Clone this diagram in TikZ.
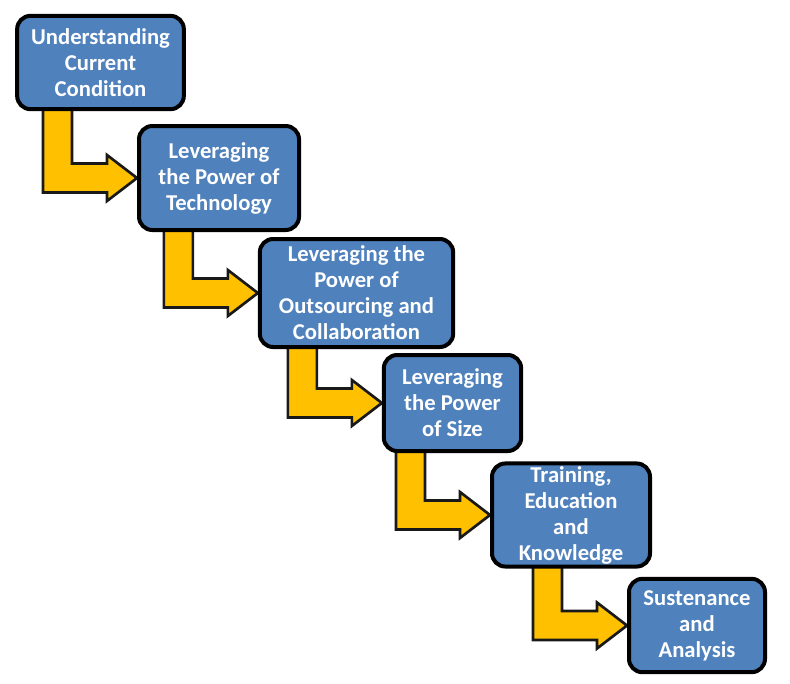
\documentclass[tikz,border=0pt]{standalone}
\usepackage{fontspec}
\setmainfont{Carlito}
\usepackage{xcolor}
\usetikzlibrary{calc,backgrounds}

\definecolor{stageblue}{HTML}{4F81BD}
\definecolor{stairgold}{HTML}{FFC000}

\begin{document}
\begin{tikzpicture}[
	x=0.75pt, y=-0.75pt,
	stage/.style={rounded corners=10pt, draw=black, line width=3pt, fill=stageblue, align=center, text=white, font=\fontsize{17}{19.5}\selectfont\bfseries, inner sep=2pt},
	stair/.style={fill=stairgold, draw=black!90, line width=2pt, line join=miter}
	]
	\useasboundingbox (0,0) rectangle (790,683);
	\node[stage, minimum width=125pt, minimum height=70pt] (cur) at (100.5,62.5) {Understanding\\Current\\Condition};
	\node[stage, minimum width=120pt, minimum height=78pt] (tech) at (219,178) {Leveraging\\the Power of\\Technology};
	\node[stage, minimum width=145pt, minimum height=81pt] (outs) at (356.5,293) {Leveraging the\\Power of\\Outsourcing and\\Collaboration};
	\node[stage, minimum width=103pt, minimum height=72pt] (size) at (452.5,403) {Leveraging\\the Power\\of Size};
	\node[stage, minimum width=118.5pt, minimum height=75pt] (train) at (571,515) {Training,\\Education\\and\\Knowledge};
	\node[stage, minimum width=102pt, minimum height=70pt] (sust) at (697,625.5) {Sustenance\\and\\Analysis};
	% bent arrows behind the boxes
	\begin{scope}[on background layer]
		\foreach \src/\dst in {cur/tech, tech/outs, outs/size, size/train, train/sust}
			\filldraw[stair] let \p1=(\src.south), \p2=(\dst.west) in
				(\x2-70.5pt,\y1+4pt) -- (\x2-70.5pt,\y2-10.9pt) -- (\x2-22.5pt,\y2-10.9pt)
				-- (\x2-22.5pt,\y2-17.25pt) -- (\x2,\y2) -- (\x2-22.5pt,\y2+17.25pt)
				-- (\x2-22.5pt,\y2+10.9pt) -- (\x2-48.75pt,\y2+10.9pt) -- (\x2-48.75pt,\y1+4pt) -- cycle;
	\end{scope}
\end{tikzpicture}
\end{document}
